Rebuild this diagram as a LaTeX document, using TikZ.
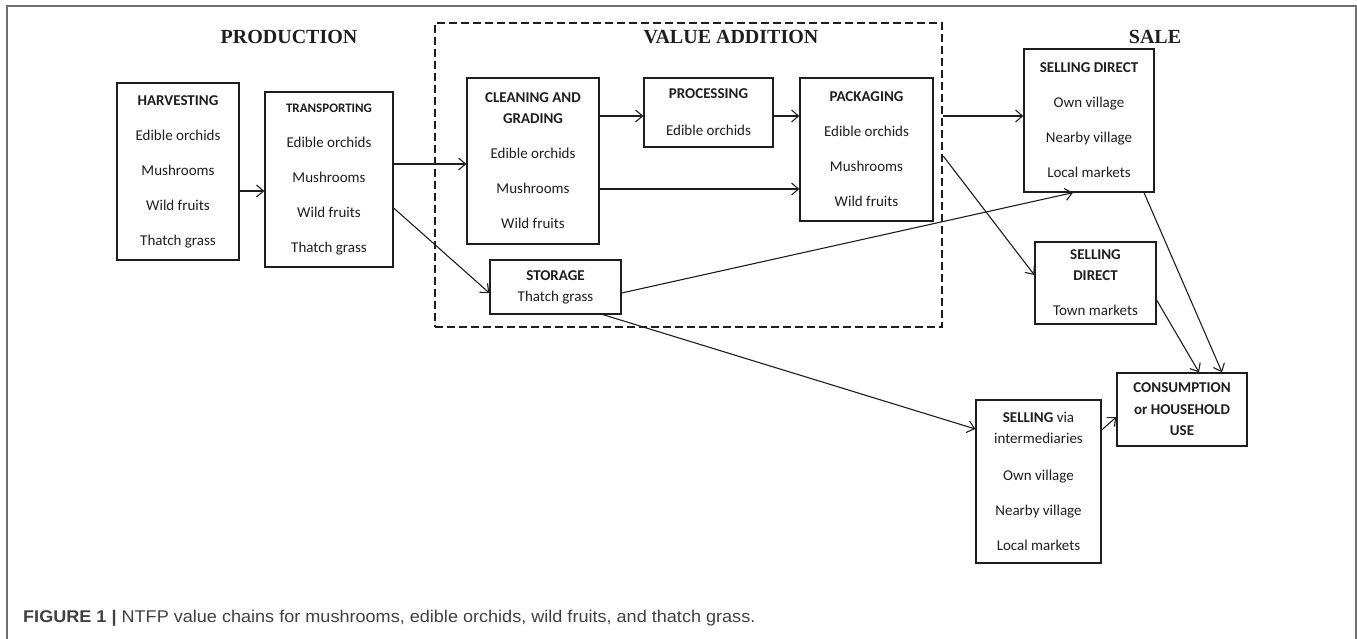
\documentclass[tikz,border=0pt]{standalone}
\usepackage{fontspec}
\setmainfont{Carlito}
\newfontfamily\headfont{Liberation Serif}
\newfontfamily\capfont{Liberation Sans}
\usetikzlibrary{arrows.meta,positioning,calc}
\definecolor{ink}{HTML}{1E1E1E}
\definecolor{framegray}{HTML}{707070}
\tikzset{
	stagebox/.style={draw=ink,line width=1.3pt,text=ink,align=center,inner sep=0pt,font=\fontsize{15}{21}\selectfont},
	stagehead/.style={text=ink,inner sep=0pt,font=\headfont\bfseries\fontsize{20}{24}\selectfont},
	valueframe/.style={draw=ink,line width=2.4pt,dash pattern=on 8pt off 4pt},
	flow/.style={->,>={Straight Barb[length=7pt,width=12pt]},draw=ink,line width=1.1pt},
	captext/.style={text=ink!85,inner sep=0pt,anchor=west,font=\capfont\fontsize{17}{20}\selectfont}
}
\begin{document}
\begin{tikzpicture}[x=1pt,y=-1pt]
	\useasboundingbox (0,0) rectangle (1357,639);
	\draw[framegray,line width=1.2pt] (7,639) -- (7,6) -- (1356,6) -- (1356,639);
	%%%headings
	\node[stagehead] (prodhead) at (289,37) {PRODUCTION};
	\node[stagehead] (valuehead) at (731,37) {VALUE ADDITION};
	\node[stagehead] (salehead) at (1155,37) {SALE};
	\node[valueframe,minimum width=507pt,minimum height=304pt] (valuebox) at (688.5,175) {};
	%%%production
	\node[stagebox,minimum width=122pt,minimum height=177pt] (harvest) at (178,171.5)
		{\textbf{HARVESTING}\\[14pt]Edible orchids\\[14pt]Mushrooms\\[14pt]Wild fruits\\[14pt]Thatch grass};
	\node[stagebox,minimum width=128pt,minimum height=175pt] (transport) at (329,179.5)
		{{\fontsize{13}{21}\selectfont\bfseries TRANSPORTING}\\[14pt]Edible orchids\\[14pt]Mushrooms\\[14pt]Wild fruits\\[14pt]Thatch grass};
	%%%value addition
	\node[stagebox,minimum width=132pt,minimum height=166pt] (clean) at (533,161)
		{\textbf{CLEANING AND}\\\textbf{GRADING}\\[14pt]Edible orchids\\[14pt]Mushrooms\\[14pt]Wild fruits};
	\node[stagebox,minimum width=129pt,minimum height=69pt] (process) at (708.5,112.5)
		{\textbf{PROCESSING}\\[16pt]Edible orchids};
	\node[stagebox,minimum width=133pt,minimum height=143pt] (pack) at (866.5,149.5)
		{\textbf{PACKAGING}\\[14pt]Edible orchids\\[14pt]Mushrooms\\[14pt]Wild fruits};
	\node[stagebox,minimum width=131pt,minimum height=54pt] (storage) at (555.5,287)
		{\textbf{STORAGE}\\Thatch grass};
	%%%sale
	\node[stagebox,minimum width=130pt,minimum height=143pt] (sellA) at (1089,120.5)
		{\textbf{SELLING DIRECT}\\[14pt]Own village\\[14pt]Nearby village\\[14pt]Local markets};
	\node[stagebox,minimum width=121pt,minimum height=82pt] (sellB) at (1095.5,283)
		{\textbf{SELLING}\\\textbf{DIRECT}\\[14pt]Town markets};
	\node[stagebox,minimum width=125pt,minimum height=163pt] (sellC) at (1038.5,481.5)
		{\textbf{SELLING} via\\intermediaries\\[16pt]Own village\\[14pt]Nearby village\\[14pt]Local markets};
	\node[stagebox,minimum width=130pt,minimum height=73pt] (cons) at (1182,409.5)
		{\textbf{CONSUMPTION}\\[0.5pt]\textbf{or HOUSEHOLD}\\[0.5pt]\textbf{USE}};
	\coordinate (exitA) at (valuebox.east |- 0,116);
	\coordinate (exitB) at (valuebox.east |- 0,156);
	%%%flows
	\draw[flow] (harvest.east |- 0,191) -- (transport.west |- 0,191);
	\draw[flow] (transport.east |- 0,164) -- (clean.west |- 0,164);
	\draw[flow] (transport.east |- 0,208) -- (storage.west |- 0,293);
	\draw[flow] (clean.east |- 0,116) -- (process.west |- 0,116);
	\draw[flow] (process.east |- 0,116) -- (pack.west |- 0,116);
	\draw[flow] (clean.east |- 0,189) -- (pack.west |- 0,189);
	\draw[flow] (exitA) -- (sellA.west |- 0,116);
	\draw[flow] (exitB) -- (sellB.west |- 0,275);
	\draw[flow] (storage.east |- 0,293) -- (sellA.south -| 1073,0);
	\draw[flow] (storage.south -| 603,0) -- (sellC.west |- 0,429);
	\draw[flow] (sellA.south -| 1144,0) -- (cons.north -| 1222,0);
	\draw[flow] (sellB.east |- 0,300) -- (cons.north -| 1199,0);
	\draw[flow] (sellC.east |- 0,430) -- (cons.west |- 0,417);
	%%%caption
	\node[captext] (caption) at (23,618) {\scalebox{1.063}[1]{\textbf{FIGURE 1} \textbf{|} NTFP value chains for mushrooms, edible orchids, wild fruits, and thatch grass.}};
\end{tikzpicture}
\end{document}
